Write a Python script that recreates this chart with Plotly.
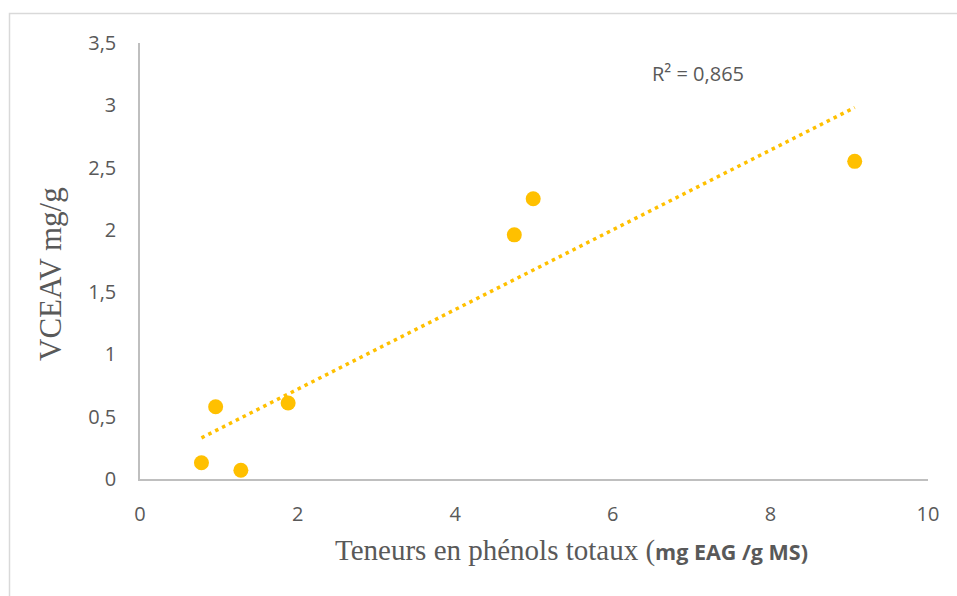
import numpy as np
import plotly.graph_objects as go

# Data
phenols = [0.78, 0.96, 1.28, 1.88, 4.75, 4.99, 9.07]
vceav = [0.13, 0.58, 0.07, 0.61, 1.96, 2.25, 2.55]
x_ticks = [0, 2, 4, 6, 8, 10]
y_ticks = [0, 0.5, 1, 1.5, 2, 2.5, 3, 3.5]
y_tick_labels = ["0", "0,5", "1", "1,5", "2", "2,5", "3", "3,5"]
r2_label = "R² = 0,865"

# Linear trendline (least squares)
slope, intercept = np.polyfit(phenols, vceav, 1)
tx = [min(phenols), max(phenols)]
ty = [slope * v + intercept for v in tx]

GOLD = "#FFC000"
GRAY = "#595959"

fig = go.Figure()
fig.add_trace(go.Scatter(x=tx, y=ty, mode="lines",
                         line=dict(color=GOLD, width=3.5, dash="3.5px,4.2px"),
                         hoverinfo="skip", showlegend=False))
fig.add_trace(go.Scatter(x=phenols, y=vceav, mode="markers",
                         marker=dict(color=GOLD, size=15, line=dict(width=0)),
                         showlegend=False))

L, R, T, B = 140, 29, 43, 117
W, H = 957, 596
pw, ph = W - L - R, H - T - B

def px_to_paper_x(px):
    return (px - L) / pw

def px_to_paper_y(py):
    return (H - B - py) / ph

fig.update_layout(
    width=W, height=H,
    margin=dict(l=L, r=R, t=T, b=B),
    paper_bgcolor="white", plot_bgcolor="white",
    font=dict(family="Open Sans", size=20, color=GRAY),
    xaxis=dict(range=[0, 10], tickvals=x_ticks, ticktext=[str(v) for v in x_ticks],
               showgrid=False, zeroline=False, showline=True, linecolor="#BFBFBF",
               linewidth=1.5, ticks="", ticklabelstandoff=16,
               tickfont=dict(family="Open Sans", size=20, color=GRAY)),
    yaxis=dict(range=[0, 3.5], tickvals=y_ticks, ticktext=y_tick_labels,
               showgrid=False, zeroline=False, showline=True, linecolor="#BFBFBF",
               linewidth=1.5, ticks="", ticklabelstandoff=18,
               tickfont=dict(family="Open Sans", size=20, color=GRAY)),
    shapes=[dict(type="rect", xref="paper", yref="paper",
                 x0=px_to_paper_x(9.5), x1=px_to_paper_x(965),
                 y0=px_to_paper_y(605), y1=px_to_paper_y(13.5),
                 line=dict(color="#D9D9D9", width=1.5), fillcolor="rgba(0,0,0,0)",
                 layer="below")],
    annotations=[
        dict(text=r2_label, x=px_to_paper_x(650), y=px_to_paper_y(73),
             xref="paper", yref="paper", xanchor="left", yanchor="middle",
             showarrow=False, font=dict(family="Open Sans", size=20, color=GRAY)),
        dict(text="VCEAV mg/g", x=px_to_paper_x(50), y=px_to_paper_y(274),
             xref="paper", yref="paper", xanchor="center", yanchor="middle",
             textangle=-90, showarrow=False,
             font=dict(family="Liberation Serif", size=31, color=GRAY)),
        dict(text='Teneurs en phénols totaux (<b><span style="font-family:Open Sans;font-size:21.5px">mg EAG /g MS)</span></b>',
             x=px_to_paper_x(571), y=px_to_paper_y(550),
             xref="paper", yref="paper", xanchor="center", yanchor="middle",
             showarrow=False,
             font=dict(family="Liberation Serif", size=29, color=GRAY)),
    ],
)

fig.write_html("out.html")
